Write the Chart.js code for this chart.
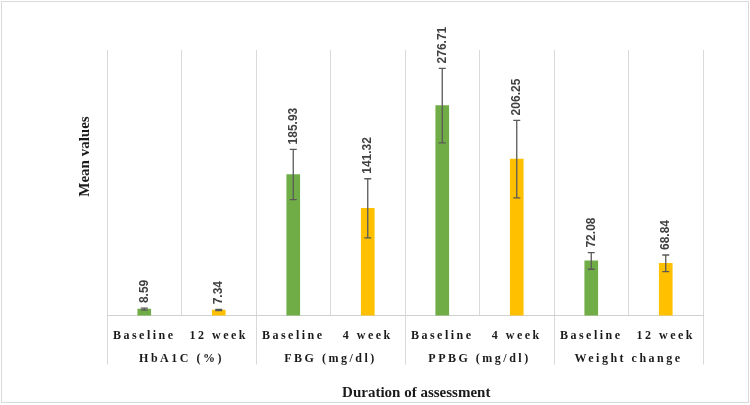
<!DOCTYPE html>
<html>
<head>
<meta charset="utf-8">
<script src="https://cdn.jsdelivr.net/npm/chart.js@4"></script>
<style>
    body { margin: 0; background: #fff; }
    #wrap { position: relative; width: 750px; height: 405px; }
    #frame { position: absolute; left: 1px; top: 1px; width: 746px; height: 400px; border: 1px solid #d9d9d9; pointer-events: none; }
</style>
</head>
<body>
<div id="wrap">
    <canvas id="myChart" width="750" height="405"></canvas>
    <div id="frame"></div>
</div>
<script>
// values
var categories = ['Baseline', '12 week', 'Baseline', '4 week', 'Baseline', '4 week', 'Baseline', '12 week'];
var groups = ['HbA1C (%)', 'FBG (mg/dl)', 'PPBG (mg/dl)', 'Weight change'];
var means = [8.59, 7.34, 185.93, 141.32, 276.71, 206.25, 72.08, 68.84];
var sds = [1.3, 0.9, 33, 39, 49, 51, 11, 11];

var green = '#70AD47';
var yellow = '#FFC000';
var serif = 'Liberation Serif';

function $each(arr, fn) {
    for (var i = 0; i < arr.length; i++) {
        fn(i, arr[i]);
    }
}

// error bars + rotated value labels, then letter spacing for the x labels drawn after (ticks z:1)
var errorBars = {
    id: 'errorBars',
    afterDatasetsDraw: function (chart) {
        var ctx = chart.ctx;
        var y = chart.scales.y;
        var meta = chart.getDatasetMeta(0);
        ctx.save();
        $each(meta.data, function (i, bar) {
            var top = y.getPixelForValue(means[i] + sds[i]);
            var bot = y.getPixelForValue(means[i] - sds[i]);
            ctx.strokeStyle = '#595959';
            ctx.lineWidth = 1.3;
            ctx.beginPath();
            ctx.moveTo(bar.x, top);
            ctx.lineTo(bar.x, bot);
            ctx.moveTo(bar.x - 3.5, top);
            ctx.lineTo(bar.x + 3.5, top);
            ctx.moveTo(bar.x - 3.5, bot);
            ctx.lineTo(bar.x + 3.5, bot);
            ctx.stroke();

            ctx.save();
            ctx.translate(bar.x, top - 5);
            ctx.rotate(-Math.PI / 2);
            ctx.fillStyle = '#404040';
            ctx.font = 'bold 12px "Liberation Sans"';
            ctx.textAlign = 'left';
            ctx.textBaseline = 'middle';
            ctx.fillText(means[i].toFixed(2), 0, 0);
            ctx.restore();
        });
        ctx.restore();
        ctx.letterSpacing = '2.5px';
    },
    afterDraw: function (chart) {
        chart.ctx.letterSpacing = '0px';
    }
};

var ctx = document.getElementById('myChart');
var myChart = new Chart(ctx, {
    type: 'bar',
    data: {
        labels: categories,
        datasets: [{
                data: means,
                backgroundColor: means.map(function (v, i) {
                    return i % 2 === 0 ? green : yellow;
                }),
                barThickness: 13
            }]
    },
    options: {
        responsive: false,
        animation: false,
        devicePixelRatio: 1,
        layout: {
            padding: {left: 72, top: 50, right: 47, bottom: 0}
        },
        plugins: {
            legend: {display: false},
            tooltip: {enabled: false}
        },
        scales: {
            x: {
                offset: true,
                grid: {
                    offset: true,
                    color: '#d9d9d9',
                    drawTicks: true,
                    tickLength: 49,
                    // only group boundaries run down through the label rows
                    tickColor: function (c) {
                        if (c.type !== 'tick' || c.index % 2 === 0) {
                            return '#d9d9d9';
                        }
                        return 'rgba(0,0,0,0)';
                    }
                },
                border: {color: '#d0d0d0'},
                ticks: {
                    padding: -36,
                    autoSkip: false,
                    maxRotation: 0,
                    color: '#1a1a1a',
                    font: {family: serif, size: 12, weight: 'bold'},
                    z: 1
                },
                afterFit: function (scale) {
                    scale.height = 26;
                }
            },
            x2: {
                type: 'category',
                labels: groups,
                position: 'bottom',
                offset: true,
                grid: {display: false, drawTicks: false},
                border: {display: false},
                ticks: {
                    padding: 10,
                    autoSkip: false,
                    maxRotation: 0,
                    color: '#1a1a1a',
                    font: {family: serif, size: 12, weight: 'bold'},
                    z: 1
                },
                title: {
                    display: true,
                    text: '      Duration of assessment',
                    color: '#1a1a1a',
                    font: {family: serif, size: 15, weight: 'bold'},
                    padding: {top: 8, bottom: 3}
                }
            },
            y: {
                min: 0,
                max: 350,
                ticks: {display: false},
                grid: {display: false, drawTicks: false},
                border: {display: false},
                title: {
                    display: true,
                    text: '              Mean values',
                    color: '#1a1a1a',
                    font: {family: serif, size: 15, weight: 'bold'},
                    padding: {top: 4, bottom: 13}
                }
            }
        }
    },
    plugins: [errorBars]
});
</script>
</body>
</html>
